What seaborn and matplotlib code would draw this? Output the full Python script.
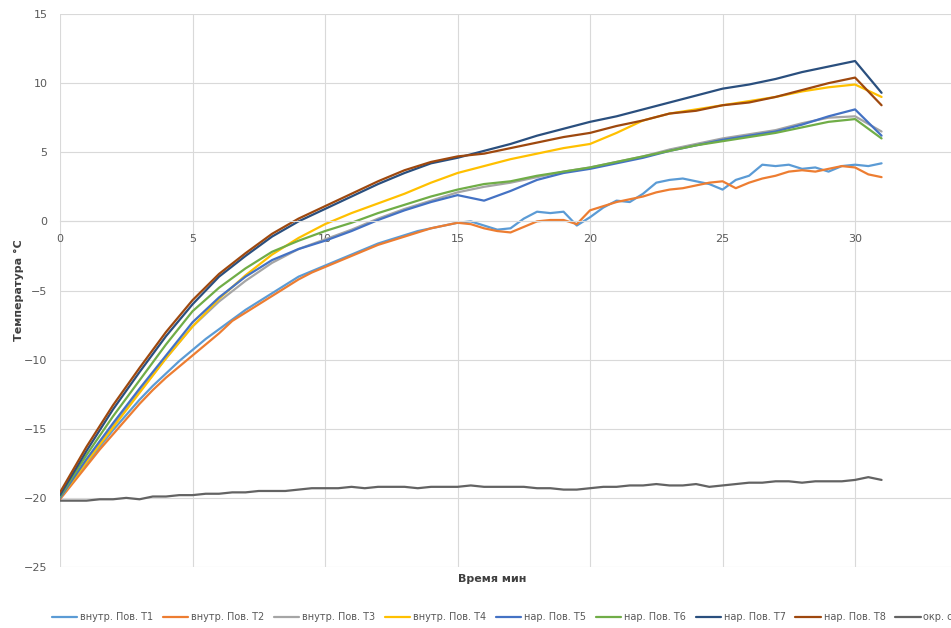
import numpy as np
import pandas as pd
import seaborn as sns
import matplotlib.pyplot as plt

# minutes, 1-min step for the smooth series
t_min = list(range(32))
# 0.5-min step for the noisy series
t_half = [i * 0.5 for i in range(63)]

t3 = [-20.0, -17.3, -14.8, -12.3, -9.9, -7.6, -5.8, -4.3, -3.0, -2.0, -1.3, -0.6, 0.2, 0.9, 1.5, 2.1,
      2.5, 2.8, 3.2, 3.6, 3.9, 4.3, 4.7, 5.2, 5.6, 6.0, 6.3, 6.6, 7.1, 7.5, 7.6, 6.5]
t4 = [-20.0, -17.4, -14.9, -12.4, -9.9, -7.6, -5.6, -3.9, -2.4, -1.2, -0.2, 0.6, 1.3, 2.0, 2.8, 3.5,
      4.0, 4.5, 4.9, 5.3, 5.6, 6.4, 7.3, 7.8, 8.1, 8.4, 8.7, 9.0, 9.4, 9.7, 9.9, 9.0]
t5 = [-20.0, -17.2, -14.6, -12.1, -9.7, -7.3, -5.5, -4.0, -2.8, -2.0, -1.4, -0.7, 0.1, 0.8, 1.4, 1.9,
      1.5, 2.2, 3.0, 3.5, 3.8, 4.2, 4.6, 5.1, 5.5, 5.9, 6.2, 6.5, 7.0, 7.6, 8.1, 6.2]
t6 = [-19.9, -16.9, -14.1, -11.5, -8.9, -6.5, -4.8, -3.4, -2.2, -1.4, -0.7, -0.1, 0.6, 1.2, 1.8, 2.3,
      2.7, 2.9, 3.3, 3.6, 3.9, 4.3, 4.7, 5.1, 5.5, 5.8, 6.1, 6.4, 6.8, 7.2, 7.4, 6.0]
t7 = [-19.8, -16.6, -13.6, -10.9, -8.3, -6.0, -4.0, -2.5, -1.1, 0.0, 0.9, 1.8, 2.7, 3.5, 4.2, 4.6,
      5.1, 5.6, 6.2, 6.7, 7.2, 7.6, 8.1, 8.6, 9.1, 9.6, 9.9, 10.3, 10.8, 11.2, 11.6, 9.3]
t8 = [-19.6, -16.3, -13.3, -10.6, -8.0, -5.7, -3.8, -2.3, -0.9, 0.2, 1.1, 2.0, 2.9, 3.7, 4.3, 4.7,
      4.9, 5.3, 5.7, 6.1, 6.4, 6.9, 7.3, 7.8, 8.0, 8.4, 8.6, 9.0, 9.5, 10.0, 10.4, 8.4]

t1 = [-20.0, -18.7, -17.5, -16.3, -15.1, -14.0, -12.9, -11.9, -11.0, -10.1, -9.3, -8.5, -7.8, -7.1,
      -6.4, -5.8, -5.2, -4.6, -4.0, -3.6, -3.2, -2.8, -2.4, -2.0, -1.6, -1.3, -1.0, -0.7, -0.5, -0.3,
      -0.1, 0.0, -0.3, -0.6, -0.5, 0.2, 0.7, 0.6, 0.7, -0.3, 0.3, 1.0, 1.5, 1.4, 2.0, 2.8, 3.0, 3.1,
      2.9, 2.7, 2.3, 3.0, 3.3, 4.1, 4.0, 4.1, 3.8, 3.9, 3.6, 4.0, 4.1, 4.0, 4.2]
t2 = [-20.1, -18.9, -17.7, -16.5, -15.4, -14.3, -13.2, -12.2, -11.3, -10.5, -9.7, -8.9, -8.1, -7.2,
      -6.6, -6.0, -5.4, -4.8, -4.2, -3.7, -3.3, -2.9, -2.5, -2.1, -1.7, -1.4, -1.1, -0.8, -0.5, -0.3,
      -0.1, -0.2, -0.5, -0.7, -0.8, -0.4, 0.0, 0.1, 0.1, -0.2, 0.8, 1.1, 1.4, 1.6, 1.8, 2.1, 2.3, 2.4,
      2.6, 2.8, 2.9, 2.4, 2.8, 3.1, 3.3, 3.6, 3.7, 3.6, 3.8, 4.0, 3.9, 3.4, 3.2]
ambient = [-20.2, -20.2, -20.2, -20.1, -20.1, -20.0, -20.1, -19.9, -19.9, -19.8, -19.8, -19.7, -19.7,
           -19.6, -19.6, -19.5, -19.5, -19.5, -19.4, -19.3, -19.3, -19.3, -19.2, -19.3, -19.2, -19.2,
           -19.2, -19.3, -19.2, -19.2, -19.2, -19.1, -19.2, -19.2, -19.2, -19.2, -19.3, -19.3, -19.4,
           -19.4, -19.3, -19.2, -19.2, -19.1, -19.1, -19.0, -19.1, -19.1, -19.0, -19.2, -19.1, -19.0,
           -18.9, -18.9, -18.8, -18.8, -18.9, -18.8, -18.8, -18.8, -18.7, -18.5, -18.7]

names = ["внутр. Пов. T1", "внутр. Пов. T2", "внутр. Пов. T3", "внутр. Пов. T4",
         "нар. Пов. T5", "нар. Пов. T6", "нар. Пов. T7", "нар. Пов. T8", "окр. среда"]
colors = ["#5B9BD5", "#ED7D31", "#A5A5A5", "#FFC000", "#4472C4", "#70AD47",
          "#2A4F7E", "#9E480E", "#636363"]

series = [(t_half, t1), (t_half, t2), (t_min, t3), (t_min, t4), (t_min, t5),
          (t_min, t6), (t_min, t7), (t_min, t8), (t_half, ambient)]
frames = []
for name, (tt, vals) in zip(names, series):
    frames.append(pd.DataFrame({"t": tt, "val": vals, "series": name}))
df = pd.concat(frames, ignore_index=True)

sns.set_style("white")
plt.rcParams["font.family"] = ["DejaVu Sans"]

fig = plt.figure(figsize=(9.51, 6.28), dpi=100)
ax = fig.add_axes([0.0631, 0.0971, 0.9369, 0.8806])

sns.lineplot(data=df, x="t", y="val", hue="series", hue_order=names,
             palette=dict(zip(names, colors)), estimator=None, sort=False,
             linewidth=1.6, ax=ax, legend=True)

ax.set_xlim(0, 33.62)
ax.set_ylim(-25, 15)
ax.set_xticks([0, 5, 10, 15, 20, 25, 30])
ax.set_yticks(range(-25, 16, 5))
ax.grid(True, color="#D9D9D9", linewidth=0.8)
ax.set_axisbelow(True)
for s in ["top", "right", "left"]:
    ax.spines[s].set_visible(False)
ax.spines["bottom"].set_position(("data", 0))
ax.spines["bottom"].set_color("#D9D9D9")
ax.tick_params(axis="both", length=0, labelsize=8, labelcolor="#595959")
ax.tick_params(axis="x", pad=9)
ax.tick_params(axis="y", pad=9)

ax.set_xlabel("Время мин", fontsize=8, fontweight="bold", color="#404040")
ax.xaxis.set_label_coords(0.485, -0.013)
ax.set_ylabel("Температура °C", fontsize=8, fontweight="bold", color="#404040")
ax.yaxis.set_label_coords(-0.04, 0.5)

# legend runs past the right edge, as in the reference
handles, labels = ax.get_legend_handles_labels()
ax.legend(handles, labels, ncol=9, loc="center left",
          bbox_to_anchor=(0.045, 0.017), bbox_transform=fig.transFigure,
          frameon=False, fontsize=7, handlelength=2.6, handletextpad=0.3,
          columnspacing=1.0, labelcolor="#595959")

fig.savefig("out.png", dpi=100)
